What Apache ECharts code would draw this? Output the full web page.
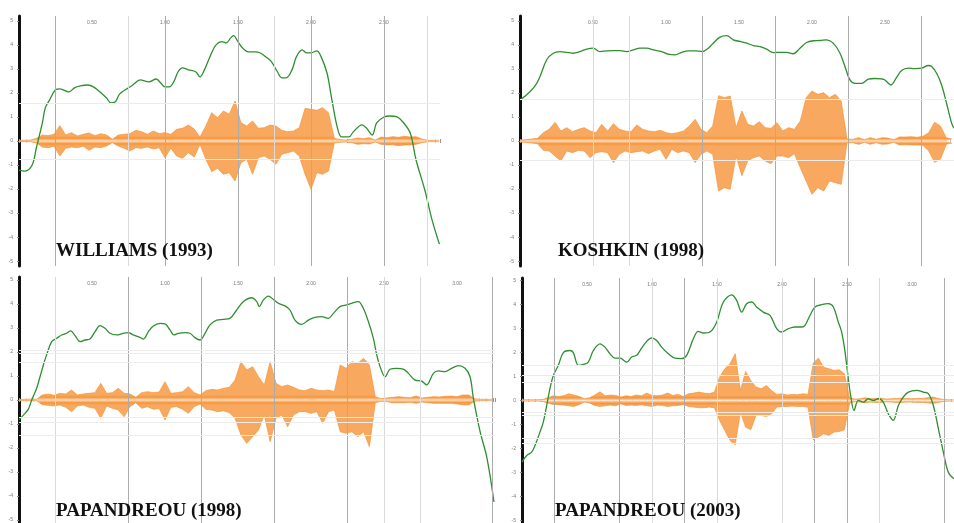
<!DOCTYPE html>
<html><head><meta charset="utf-8">
<script src="https://cdn.jsdelivr.net/npm/echarts@6/dist/echarts.min.js"></script>
<style>html,body{margin:0;padding:0;background:#fff}#c{width:954px;height:523px}</style>
</head><body><div id="c"></div>
<script>
// ---------- labels ----------
const panelTitles = ['WILLIAMS (1993)', 'KOSHKIN (1998)', 'PAPANDREOU (1998)', 'PAPANDREOU (2003)'];
const panelDuration = [2.884, 2.973, 3.260, 3.323];   // seconds shown in each panel
const waveStep = 0.04;                                // envelope sampling step (s)

// ---------- pitch contours [time s, level] ----------
const p1Pitch = [[0,-1.21],[0.04,-1.25],[0.09,-1.00],[0.12,-0.25],[0.16,0.75],[0.18,1.38],[0.21,1.71],[0.25,2.13],[0.28,2.17],[0.34,2.04],[0.38,2.21],[0.42,2.29],[0.47,2.33],[0.51,2.25],[0.57,1.96],[0.60,1.79],[0.63,1.58],[0.66,1.63],[0.69,1.96],[0.75,2.21],[0.78,2.33],[0.83,2.54],[0.89,2.46],[0.94,2.58],[0.97,2.42],[1.00,2.25],[1.03,2.25],[1.06,2.46],[1.09,2.88],[1.12,3.04],[1.16,2.96],[1.21,2.88],[1.24,2.67],[1.27,2.96],[1.32,3.67],[1.35,4.00],[1.39,4.13],[1.42,4.08],[1.45,4.29],[1.47,4.38],[1.50,4.13],[1.53,3.88],[1.57,3.71],[1.62,3.71],[1.65,3.67],[1.70,3.46],[1.73,3.29],[1.77,2.88],[1.80,2.63],[1.83,2.63],[1.87,2.96],[1.90,3.50],[1.94,3.79],[1.97,3.67],[2.00,3.67],[2.04,3.75],[2.07,3.50],[2.11,2.83],[2.14,1.83],[2.18,0.58],[2.21,0.17],[2.26,0.17],[2.29,0.38],[2.35,0.67],[2.38,0.54],[2.42,0.25],[2.45,0.75],[2.50,1.00],[2.54,1.04],[2.59,1.00],[2.63,0.79],[2.68,0.33],[2.72,-0.79],[2.78,-2.04],[2.83,-3.29],[2.88,-4.29]];
const p2Pitch = [[0,1.71],[0.046,1.92],[0.103,2.29],[0.137,2.68],[0.183,3.38],[0.228,3.65],[0.274,3.72],[0.320,3.69],[0.365,3.65],[0.411,3.72],[0.457,3.82],[0.502,3.86],[0.548,3.72],[0.594,3.75],[0.639,3.76],[0.685,3.76],[0.731,3.72],[0.776,3.79],[0.822,3.86],[0.868,3.86],[0.913,3.79],[0.970,3.72],[1.016,3.61],[1.062,3.58],[1.107,3.69],[1.153,3.75],[1.199,3.75],[1.249,3.72],[1.290,3.86],[1.324,4.07],[1.370,4.32],[1.416,4.38],[1.461,4.21],[1.507,4.14],[1.553,4.07],[1.598,3.97],[1.644,3.93],[1.689,3.82],[1.735,3.68],[1.781,3.69],[1.826,3.69],[1.872,3.63],[1.918,3.86],[1.963,4.10],[2.009,4.17],[2.055,4.18],[2.100,4.21],[2.146,4.07],[2.192,3.65],[2.226,3.10],[2.260,2.54],[2.295,2.40],[2.340,2.40],[2.386,2.57],[2.432,2.60],[2.477,2.58],[2.500,2.54],[2.541,2.33],[2.580,2.65],[2.614,2.93],[2.660,3.03],[2.705,3.01],[2.751,3.03],[2.797,3.14],[2.820,3.10],[2.854,2.82],[2.888,2.33],[2.922,1.57],[2.957,0.74],[2.973,0.53]];
const p3Pitch = [[0,-0.83],[0.030,-0.63],[0.064,-0.38],[0.087,0.00],[0.121,0.49],[0.144,0.97],[0.167,1.46],[0.189,1.88],[0.224,2.43],[0.258,2.57],[0.292,2.71],[0.326,2.78],[0.354,2.88],[0.384,2.68],[0.418,2.43],[0.452,2.50],[0.486,2.54],[0.521,2.85],[0.555,3.10],[0.589,2.99],[0.623,2.78],[0.669,2.71],[0.715,2.78],[0.749,2.81],[0.783,2.71],[0.817,2.64],[0.852,2.54],[0.886,2.85],[0.920,3.08],[0.966,3.19],[1.000,3.17],[1.034,2.92],[1.062,2.71],[1.091,2.78],[1.137,2.81],[1.171,2.78],[1.205,2.60],[1.240,2.50],[1.274,2.78],[1.308,3.13],[1.354,3.33],[1.400,3.36],[1.445,3.40],[1.491,3.75],[1.537,4.10],[1.594,4.26],[1.628,4.10],[1.646,3.89],[1.674,4.17],[1.708,4.33],[1.742,4.19],[1.776,4.03],[1.822,3.92],[1.856,3.75],[1.890,3.33],[1.936,3.15],[1.982,3.33],[2.027,3.44],[2.073,3.47],[2.119,3.40],[2.153,3.61],[2.199,3.89],[2.244,3.96],[2.279,4.03],[2.324,4.10],[2.358,3.82],[2.393,3.26],[2.427,2.57],[2.450,1.88],[2.473,1.39],[2.507,0.97],[2.541,1.28],[2.587,1.32],[2.632,1.29],[2.667,1.11],[2.712,0.83],[2.758,0.79],[2.792,0.63],[2.838,1.11],[2.872,1.21],[2.918,1.18],[2.963,1.32],[3.009,1.43],[3.055,1.32],[3.089,0.97],[3.112,0.07],[3.158,-1.32],[3.205,-2.42],[3.253,-4.25]];
const p4Pitch = [[0,-2.57],[0.036,-2.29],[0.074,-2.15],[0.100,-1.88],[0.138,-1.32],[0.164,-0.90],[0.190,-0.21],[0.215,0.49],[0.241,1.04],[0.279,1.46],[0.318,1.99],[0.369,2.08],[0.395,1.99],[0.433,1.46],[0.472,1.50],[0.510,1.60],[0.549,2.08],[0.600,2.36],[0.638,2.22],[0.677,1.94],[0.715,1.76],[0.754,1.76],[0.805,1.60],[0.844,1.81],[0.882,1.88],[0.908,2.08],[0.959,2.46],[0.997,2.60],[1.036,2.50],[1.074,2.22],[1.126,1.94],[1.177,1.76],[1.228,1.74],[1.267,1.88],[1.318,2.57],[1.356,2.88],[1.395,2.81],[1.446,2.85],[1.497,3.26],[1.549,4.10],[1.613,4.40],[1.651,4.17],[1.690,3.68],[1.728,4.03],[1.767,4.10],[1.805,3.89],[1.856,3.68],[1.908,3.54],[1.959,2.99],[1.997,2.85],[2.049,2.99],[2.100,3.06],[2.151,3.06],[2.177,3.13],[2.215,3.54],[2.254,3.89],[2.305,3.99],[2.356,4.03],[2.395,3.89],[2.433,3.26],[2.459,2.85],[2.485,2.01],[2.510,0.90],[2.528,0.21],[2.554,-0.42],[2.587,0.00],[2.626,-0.07],[2.664,0.07],[2.703,0.00],[2.741,0.07],[2.779,-0.07],[2.818,-0.56],[2.856,-0.83],[2.895,-0.21],[2.933,0.14],[2.972,0.35],[3.036,0.42],[3.087,0.35],[3.126,0.28],[3.164,-0.21],[3.203,-1.18],[3.241,-2.15],[3.279,-2.99],[3.323,-3.26]];

// ---------- waveform envelopes (sampled every waveStep s) ----------
const p1WaveUp = [2,2,3,8,18,16,20,46,18,25,15,20,24,16,22,18,5,18,20,22,32,28,20,30,22,25,20,35,38,48,36,12,45,85,70,90,80,120,55,45,60,38,40,48,45,32,28,30,40,98,95,92,100,85,8,4,3,5,9,7,10,3,12,10,13,11,14,12,13,6,2,2,2];
const p1WaveDown = [-2,-2,-2,-6,-18,-20,-16,-45,-22,-18,-20,-16,-28,-18,-20,-15,-5,-15,-22,-30,-20,-22,-18,-24,-20,-50,-22,-45,-52,-35,-48,-10,-55,-92,-82,-100,-95,-120,-65,-55,-100,-50,-45,-55,-70,-40,-35,-30,-45,-100,-145,-95,-100,-90,-6,-4,-3,-5,-10,-8,-9,-3,-10,-12,-11,-14,-12,-12,-10,-5,-2,-2,-2];
const p2WaveUp = [3,4,6,8,25,35,56,30,40,28,35,40,30,25,50,30,52,35,30,28,48,35,30,28,32,25,22,25,30,45,65,35,25,45,136,130,135,40,90,50,45,58,40,38,55,30,40,35,60,130,150,140,145,130,140,120,6,5,10,4,10,5,10,9,4,12,12,13,11,14,25,56,45,10,6];
const p2WaveDown = [-3,-4,-6,-8,-28,-30,-45,-60,-30,-35,-28,-30,-50,-35,-32,-35,-65,-40,-30,-35,-32,-30,-38,-30,-25,-55,-25,-35,-30,-35,-65,-40,-30,-40,-150,-140,-145,-45,-104,-60,-50,-45,-60,-68,-45,-45,-50,-38,-80,-120,-160,-140,-150,-120,-125,-130,-6,-5,-10,-4,-10,-5,-10,-9,-4,-12,-11,-12,-12,-13,-30,-64,-55,-10,-6];
const p3WaveUp = [2,2,3,2,15,18,14,20,18,30,15,18,20,22,50,20,22,35,20,18,8,22,25,22,24,55,20,22,25,40,22,15,28,32,30,35,38,60,115,90,100,70,45,115,50,40,45,38,30,28,35,30,28,30,25,105,95,115,110,125,105,10,4,6,8,10,8,7,12,6,8,10,9,11,12,10,15,15,4,2,2,2];
const p3WaveDown = [-2,-2,-2,-2,-14,-16,-18,-15,-22,-35,-18,-15,-22,-25,-55,-18,-25,-30,-50,-20,-8,-25,-20,-28,-25,-60,-22,-20,-28,-40,-20,-12,-28,-30,-35,-32,-38,-55,-105,-130,-110,-90,-45,-125,-55,-45,-80,-45,-35,-35,-40,-35,-70,-35,-30,-95,-100,-95,-110,-95,-140,-8,-4,-5,-8,-8,-8,-7,-10,-6,-8,-10,-10,-10,-10,-12,-14,-15,-4,-2,-2,-2];
const p4WaveUp = [2,2,2,2,3,8,14,12,14,20,16,12,5,8,16,26,14,16,15,10,14,12,16,14,22,15,14,16,22,15,18,12,20,22,25,22,20,25,70,95,110,140,30,87,60,40,35,45,30,18,20,16,18,17,20,18,112,127,100,95,90,92,80,8,4,5,8,5,6,7,4,5,6,7,6,5,6,6,8,10,6,3,2,2];
const p4WaveDown = [-2,-2,-2,-2,-3,-8,-12,-13,-14,-16,-18,-12,-5,-8,-15,-18,-16,-14,-16,-10,-15,-14,-15,-13,-16,-18,-14,-15,-18,-16,-15,-12,-18,-20,-22,-22,-20,-22,-60,-90,-120,-133,-35,-80,-88,-45,-45,-48,-40,-20,-18,-18,-17,-18,-18,-20,-118,-110,-100,-105,-95,-93,-88,-8,-4,-5,-7,-5,-6,-6,-4,-5,-6,-6,-5,-5,-6,-6,-7,-9,-6,-3,-2,-2];

// ---------- time grid lines (s) and faint level lines ----------
const p1GridMajor = [0.25,1.0,1.5,2.0,2.5], p1GridMinor = [0.75,1.75,2.8];
const p2GridMajor = [1.25,1.75,2.25,2.75], p2GridMinor = [0.5,0.75];
const p3GridMajor = [0.75,1.25,1.75,2.25,3.24], p3GridMinor = [0.25,2.5,2.75];
const p4GridMajor = [0.25,0.75,1.25,2.25,2.5,3.25], p4GridMinor = [1.0,1.5,2.0,2.75];
const p1Levels = [1.58,-0.75], p2Levels = [1.75,-0.8];
const p3Levels = [2.08,1.96,1.58,-0.71,-0.92,-1.46], p4Levels = [1.46,1.04,0.75,-0.5,-0.63,-1.58,-1.79];

// ---------- layout / build ----------
const grids = [
  {left:19, top:16, width:421, height:250},
  {left:520, top:16, width:434, height:250},
  {left:19, top:277, width:476, height:246},
  {left:522, top:278, width:432, height:245}
];
const waveRange = [375, 375, 369, 367.5];
const pitchRange = [5.2, 5.2, 5.125, 5.1];
const pitches = [p1Pitch, p2Pitch, p3Pitch, p4Pitch];
const ups = [p1WaveUp, p2WaveUp, p3WaveUp, p4WaveUp];
const downs = [p1WaveDown, p2WaveDown, p3WaveDown, p4WaveDown];
const gMaj = [p1GridMajor, p2GridMajor, p3GridMajor, p4GridMajor];
const gMin = [p1GridMinor, p2GridMinor, p3GridMinor, p4GridMinor];
const levels = [p1Levels, p2Levels, p3Levels, p4Levels];
const titlePos = [[56,242],[558,242],[56,502],[555,502]];

const ORANGE = '#f5943a', FILL = '#f8a95f', PEACH = '#fddcbb', GREEN = '#2e8f30';
const xAxes = [], yAxes = [], series = [], graphics = [];
grids.forEach((g, i) => {
  const base = g.top + g.height / 2;
  xAxes.push({type:'value', gridIndex:i, position:'top', min:0, max:panelDuration[i], interval:0.25,
    axisLine:{show:false}, splitLine:{show:false},
    axisTick:{show:true, inside:true, length:2, lineStyle:{color:'#9a9a9a'}},
    minorTick:{show:true, splitNumber:5, length:1.5, lineStyle:{color:'#bdbdbd'}},
    axisLabel:{inside:true, fontSize:5, color:'#777', margin:4, showMaxLabel:false, showMinLabel:false,
      formatter: v => (Math.abs(v*2 - Math.round(v*2)) < 1e-6) ? v.toFixed(2) : ''}});
  xAxes.push({type:'value', gridIndex:i, position:'bottom', min:0, max:panelDuration[i], interval:0.25,
    axisLine:{show:false}, splitLine:{show:false}, axisLabel:{show:false},
    axisTick:{show:true, inside:true, length:2, lineStyle:{color:'#9a9a9a'}},
    minorTick:{show:true, splitNumber:5, length:1.5, lineStyle:{color:'#bdbdbd'}}});
  yAxes.push({type:'value', gridIndex:i, min:-pitchRange[i], max:pitchRange[i], splitNumber:10,
    axisLine:{show:true, lineStyle:{color:'#111', width:3}},
    axisTick:{show:true, length:2, lineStyle:{color:'#888'}},
    axisLabel:{fontSize:5, color:'#777', margin:6, showMinLabel:false, showMaxLabel:false},
    splitLine:{show:false}});
  yAxes.push({type:'value', gridIndex:i, min:-waveRange[i], max:waveRange[i], show:false});
  const xi = i*2, yp = i*2, yw = i*2+1;
  series.push({type:'line', xAxisIndex:xi, yAxisIndex:yp, data:[], z:1, silent:true,
    markLine:{silent:true, symbol:['none','none'], label:{show:false}, animation:false,
      data: gMaj[i].map(t => ({xAxis:t, lineStyle:{color:'#ababab', width:1, type:'solid'}}))
        .concat(gMin[i].map(t => ({xAxis:t, lineStyle:{color:'#dadada', width:1, type:'solid'}})))
        .concat(levels[i].map(v => ({yAxis:v, lineStyle:{color:'#ececec', width:1, type:'solid'}})))}});
  series.push({type:'line', xAxisIndex:xi, yAxisIndex:yw, z:2, symbol:'none', silent:true,
    data: ups[i].map((a, k) => [k*waveStep, a]),
    lineStyle:{color:ORANGE, width:0.7},
    areaStyle:{opacity:1, color:new echarts.graphic.LinearGradient(0, base-5, 0, base, [{offset:0,color:FILL},{offset:0.45,color:ORANGE},{offset:1,color:PEACH}], true)}});
  series.push({type:'line', xAxisIndex:xi, yAxisIndex:yw, z:2, symbol:'none', silent:true,
    data: downs[i].map((a, k) => [k*waveStep, a]),
    lineStyle:{color:ORANGE, width:0.7},
    areaStyle:{opacity:1, color:new echarts.graphic.LinearGradient(0, base, 0, base+5, [{offset:0,color:PEACH},{offset:0.55,color:ORANGE},{offset:1,color:FILL}], true)}});
  series.push({type:'line', xAxisIndex:xi, yAxisIndex:yp, z:3, symbol:'none', smooth:0.35, silent:true,
    data: pitches[i], lineStyle:{color:GREEN, width:1.3}});
  graphics.push({type:'text', left:titlePos[i][0], top:titlePos[i][1], z:10,
    style:{text:panelTitles[i], font:'bold 19px "Liberation Serif", "Times New Roman", serif', fill:'#111'}});
});

const chart = echarts.init(document.getElementById('c'), null, {renderer:'canvas'});
chart.setOption({animation:false, backgroundColor:'#fff', grid:grids, xAxis:xAxes, yAxis:yAxes, series:series, graphic:graphics});
</script></body></html>
